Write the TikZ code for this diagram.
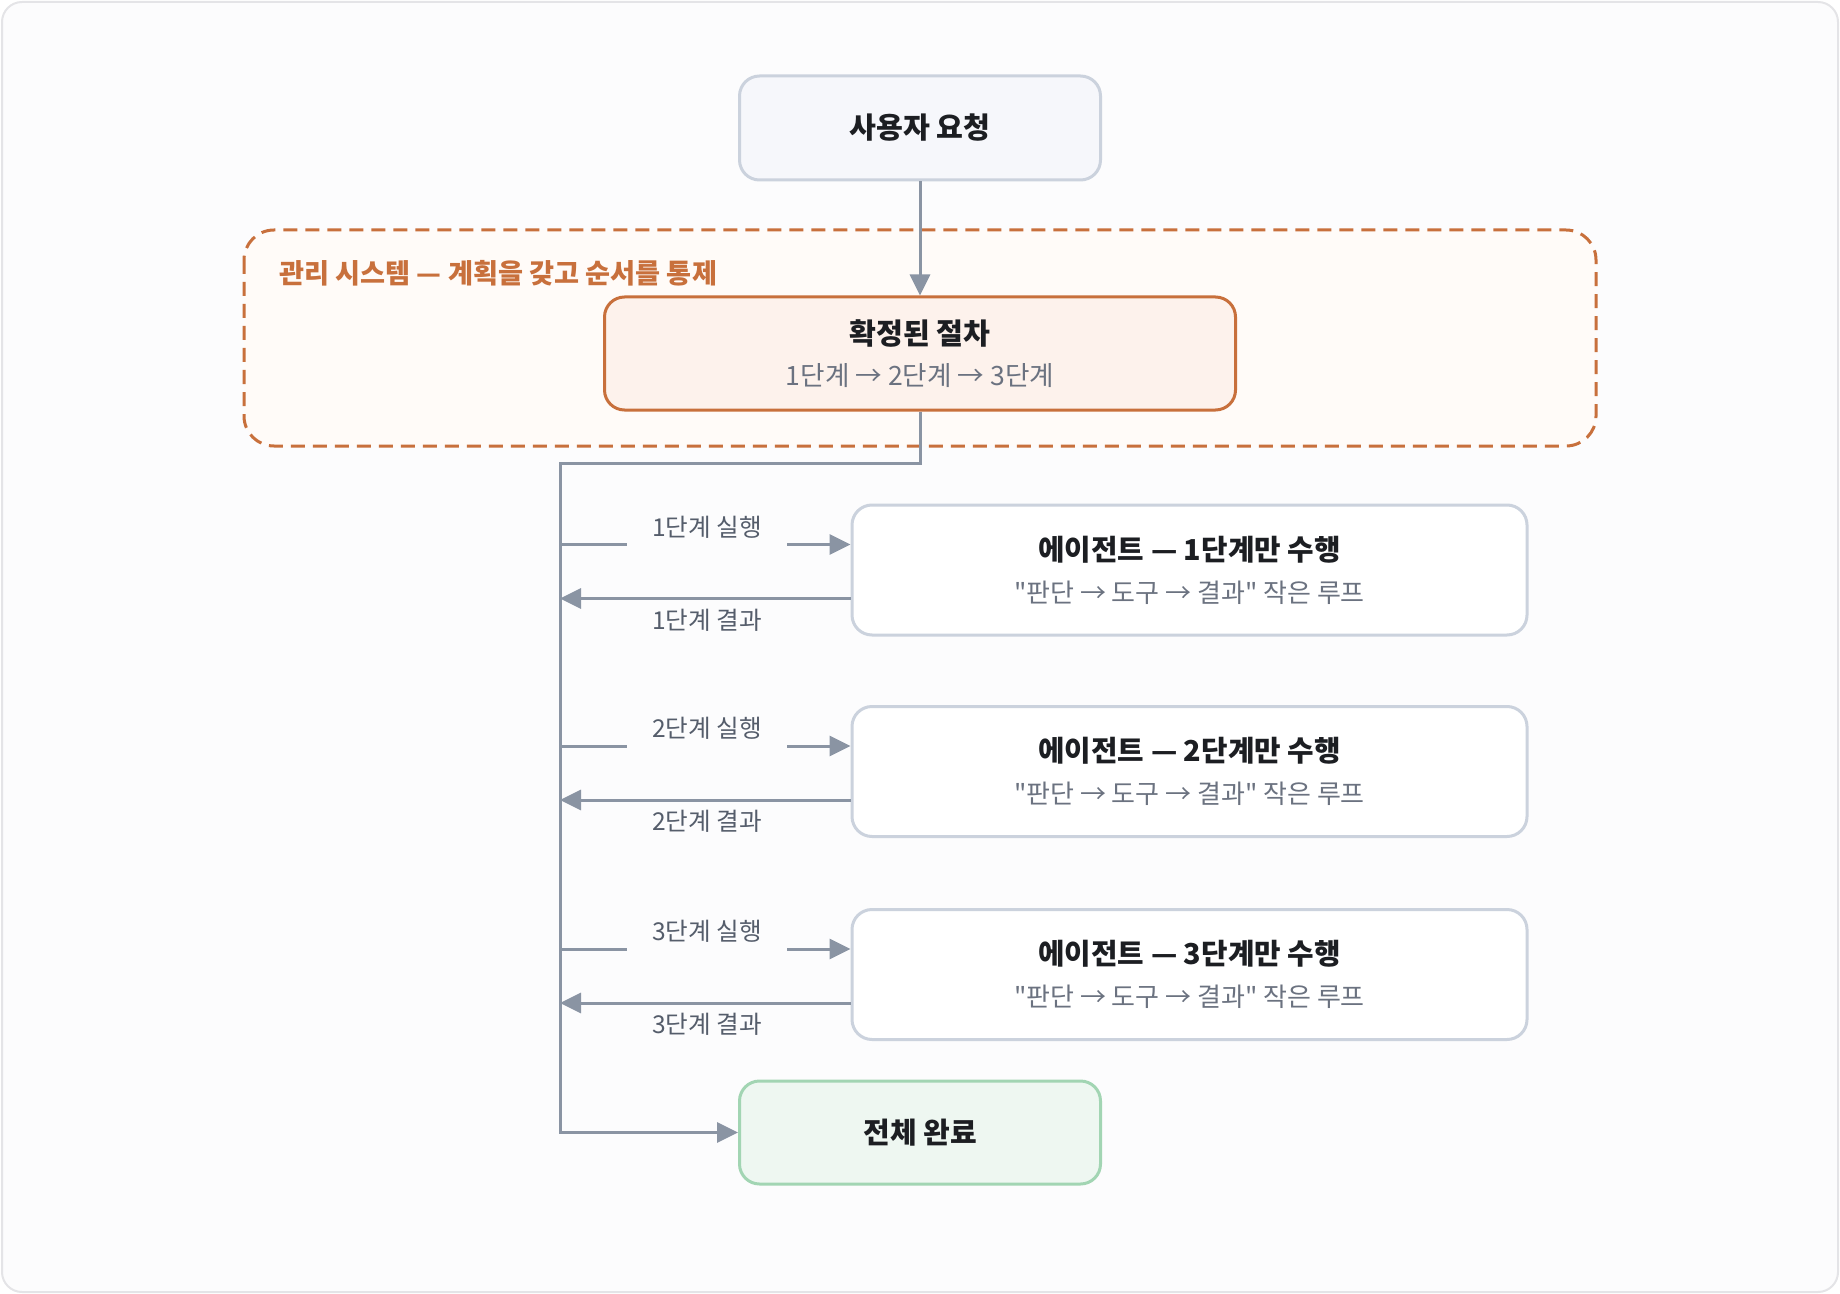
\documentclass[tikz,border=0pt]{standalone}
\usepackage{fontspec}
\setmainfont{Noto Sans CJK KR}
\newfontfamily\plainquote{Noto Sans CJK KR}
\usepackage{xcolor}
\usepackage{tikz}
\usetikzlibrary{arrows.meta,positioning}
\definecolor{canvas}{HTML}{FCFCFD}
\definecolor{frame}{HTML}{E4E4E7}
\definecolor{edge}{HTML}{8A94A3}
\definecolor{boxline}{HTML}{CBD2DD}
\definecolor{reqfill}{HTML}{F6F7FB}
\definecolor{plan}{HTML}{C8703C}
\definecolor{planfill}{HTML}{FFFBF8}
\definecolor{procfill}{HTML}{FDF2EC}
\definecolor{donefill}{HTML}{EEF7F1}
\definecolor{doneline}{HTML}{A2D5B3}
\definecolor{ink}{HTML}{1C1E22}
\definecolor{subink}{HTML}{6B7280}
\definecolor{labelink}{HTML}{555D6B}

\begin{document}
\begin{tikzpicture}[x=0.5pt,y=-0.5pt,
  box/.style={draw=boxline,line width=1.5pt,rounded corners=10pt,align=center,text=ink},
  flow/.style={draw=edge,line width=1.5pt},
  tip/.style={-{Triangle[length=10.5pt,width=10pt]}},
  steplabel/.style={text=labelink,font=\fontsize{12.3}{14}\selectfont,minimum width=80pt,inner sep=0pt}]
\useasboundingbox (0,0) rectangle (1840,1294);
\draw[fill=canvas,draw=frame,line width=1pt,rounded corners=10pt] (2,2) rectangle (1838,1292);

% plan group
\draw[draw=plan,fill=planfill,line width=1.5pt,dash pattern=on 7pt off 4pt,rounded corners=15pt] (244,230) rectangle (1596,446);
\node[anchor=west,text=plan,inner sep=0pt,font=\bfseries\fontsize{13.6}{16}\selectfont] (plantitle) at (279,273) {관리 시스템 — 계획을 갖고 순서를 통제};

% boxes
\node[box,fill=reqfill,minimum width=180.5pt,minimum height=52pt,font=\bfseries\fontsize{14.6}{17}\selectfont] (req) at (920,128) {사용자 요청};
\node[box,draw=plan,fill=procfill,minimum width=315.5pt,minimum height=56.5pt,font=\fontsize{14.6}{20.5}\selectfont] (proc) at (920,353.5) {\textbf{확정된 절차}\\{\color{subink}\fontsize{13.3}{20.5}\selectfont 1단계 → 2단계 → 3단계}};

\node[box,fill=white,minimum width=337.5pt,minimum height=65pt,font=\fontsize{14.4}{21}\selectfont] (a1) at (1189.5,570) {\textbf{에이전트 — 1단계만 수행}\\{\color{subink}\plainquote\fontsize{13}{21}\selectfont "판단 → 도구 → 결과" 작은 루프}};
\node[box,fill=white,minimum width=337.5pt,minimum height=65pt,font=\fontsize{14.4}{21}\selectfont] (a2) at (1189.5,771.5) {\textbf{에이전트 — 2단계만 수행}\\{\color{subink}\plainquote\fontsize{13}{21}\selectfont "판단 → 도구 → 결과" 작은 루프}};
\node[box,fill=white,minimum width=337.5pt,minimum height=65pt,font=\fontsize{14.4}{21}\selectfont] (a3) at (1189.5,974.5) {\textbf{에이전트 — 3단계만 수행}\\{\color{subink}\plainquote\fontsize{13}{21}\selectfont "판단 → 도구 → 결과" 작은 루프}};

\node[box,draw=doneline,fill=donefill,minimum width=180.5pt,minimum height=51.5pt,font=\bfseries\fontsize{14.5}{17}\selectfont] (done) at (920,1132.5) {전체 완료};

% labels
\node[steplabel] (run1) at (707,527) {1단계 실행};
\node[steplabel] (res1) at (707,620) {1단계 결과};
\node[steplabel] (run2) at (707,728.5) {2단계 실행};
\node[steplabel] (res2) at (707,821.5) {2단계 결과};
\node[steplabel] (run3) at (707,931.5) {3단계 실행};
\node[steplabel] (res3) at (707,1024.5) {3단계 결과};

\coordinate (bend) at (560,463);
\coordinate (in1) at (560,544.5);
\coordinate (out1) at (560,598.5);
\coordinate (in2) at (560,746);
\coordinate (out2) at (560,800);
\coordinate (in3) at (560,949);
\coordinate (out3) at (560,1003);

% connectors
\draw[flow,tip] (req.south) -- (proc.north);
\draw[flow,tip] (proc.south) |- (bend) |- (done.west);

\draw[flow] (in1) -- (in1 -| run1.west);
\draw[flow,tip] (run1.east |- in1) -- (in1 -| a1.west);
\draw[flow,tip] (out1 -| a1.west) -- (out1);
\draw[flow] (in2) -- (in2 -| run2.west);
\draw[flow,tip] (run2.east |- in2) -- (in2 -| a2.west);
\draw[flow,tip] (out2 -| a2.west) -- (out2);
\draw[flow] (in3) -- (in3 -| run3.west);
\draw[flow,tip] (run3.east |- in3) -- (in3 -| a3.west);
\draw[flow,tip] (out3 -| a3.west) -- (out3);
\end{tikzpicture}
\end{document}
